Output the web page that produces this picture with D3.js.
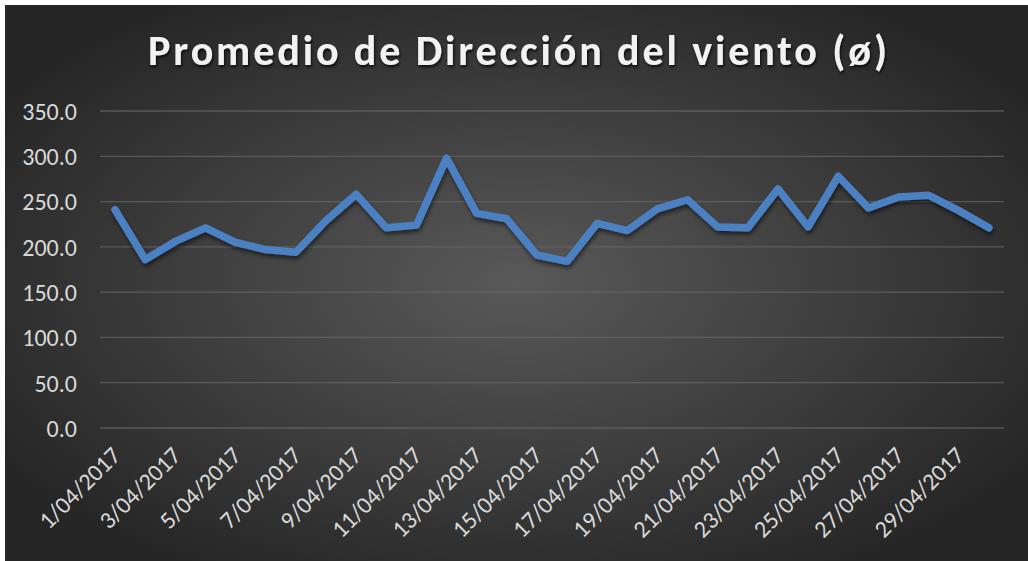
<!DOCTYPE html>
<html><head><meta charset="utf-8">
<script src="https://cdn.jsdelivr.net/npm/d3@7"></script>
<style>body{margin:0;background:#fff;}svg{display:block;}</style>
</head><body>
<script>
const dates = ["1/04/2017","2/04/2017","3/04/2017","4/04/2017","5/04/2017","6/04/2017","7/04/2017","8/04/2017","9/04/2017","10/04/2017","11/04/2017","12/04/2017","13/04/2017","14/04/2017","15/04/2017","16/04/2017","17/04/2017","18/04/2017","19/04/2017","20/04/2017","21/04/2017","22/04/2017","23/04/2017","24/04/2017","25/04/2017","26/04/2017","27/04/2017","28/04/2017","29/04/2017","30/04/2017"];
const values = [241,186,206,221,205,197,194,229,258,221,224,298,237,231,191,184,226,218,242,252,222,221,264,222,278,243,255,257,240,221];
const yTicks = [0,50,100,150,200,250,300,350];
const title = "Promedio de Dirección del viento (ø)";

const W=1028,H=561;
const FONT="Carlito, Calibri, 'Open Sans', sans-serif";
const svg=d3.select("body").append("svg").attr("width",W).attr("height",H);
const defs=svg.append("defs");
const rg=defs.append("radialGradient").attr("id","bg").attr("cx","50%").attr("cy","50%").attr("r","60%");
rg.append("stop").attr("offset","0%").attr("stop-color","#595959");
rg.append("stop").attr("offset","100%").attr("stop-color","#262626");
const f=defs.append("filter").attr("id","sh").attr("x","-10%").attr("y","-10%").attr("width","120%").attr("height","130%");
f.append("feDropShadow").attr("dx",1).attr("dy",3).attr("stdDeviation",2).attr("flood-color","#000").attr("flood-opacity",0.55);
const tf=defs.append("filter").attr("id","tsh").attr("x","-10%").attr("y","-20%").attr("width","120%").attr("height","150%");
tf.append("feDropShadow").attr("dx",1).attr("dy",2).attr("stdDeviation",1.5).attr("flood-color","#000").attr("flood-opacity",0.8);

svg.append("rect").attr("x",5).attr("y",5).attr("width",W-5).attr("height",H-5).attr("fill","url(#bg)");

const x=d3.scaleBand().domain(dates).range([100,1004]);
const y=d3.scaleLinear().domain([0,350]).range([428,111]);

const g=svg.append("g");
g.selectAll("line.grid").data(yTicks).join("line").attr("class","grid")
 .attr("x1",100).attr("x2",1004).attr("y1",d=>y(d)).attr("y2",d=>y(d))
 .attr("stroke","#6a6a6a").attr("stroke-width",1.3).attr("stroke-opacity",0.7);

const yAxis=d3.axisLeft(y).tickValues(yTicks).tickFormat(d3.format(".1f")).tickSize(0).tickPadding(0);
const ya=svg.append("g").attr("transform","translate(77,0)").call(yAxis);
ya.select(".domain").remove();
ya.selectAll("text").attr("fill","#d9d9d9").attr("font-family",FONT).attr("font-size",24).attr("dy","0.35em");

const xAxis=d3.axisBottom(x).tickValues(dates.filter((d,i)=>i%2===0)).tickSize(0).tickPadding(0);
const xa=svg.append("g").attr("transform","translate(0,428)").call(xAxis);
xa.select(".domain").remove();
xa.selectAll("text").attr("fill","#d9d9d9").attr("font-family",FONT).attr("font-size",24)
 .attr("text-anchor","end").attr("dy",0).attr("y",0)
 .attr("transform","translate(7,29) rotate(-45)");

const line=d3.line().x((d,i)=>x(dates[i])+x.bandwidth()/2).y(d=>y(d));
svg.append("path").datum(values).attr("d",line).attr("fill","none")
 .attr("stroke","#4c80c2").attr("stroke-width",7.5).attr("stroke-linejoin","round").attr("stroke-linecap","round")
 .attr("filter","url(#sh)");

svg.append("text").attr("x",519).attr("y",65).attr("text-anchor","middle")
 .attr("font-family",FONT).attr("font-weight","bold").attr("font-size",42)
 .attr("letter-spacing",2.9).attr("fill","#f2f2f2").attr("filter","url(#tsh)").text(title);
</script>
</body></html>
